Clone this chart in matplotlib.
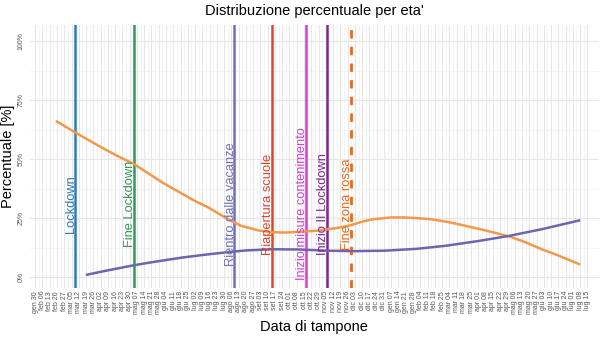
import numpy as np
import pandas as pd
import matplotlib
matplotlib.use('Agg')
from matplotlib import pyplot as plt

plt.rcParams['font.family'] = ['Liberation Sans', 'DejaVu Sans']

# share of positive swabs by age group (%)
orange_dates = ['2020-02-20', '2020-03-08', '2020-03-20', '2020-04-05', '2020-04-20',
                '2020-05-04', '2020-05-18', '2020-06-01', '2020-06-15', '2020-07-01',
                '2020-07-15', '2020-08-01', '2020-08-15', '2020-09-01', '2020-09-14',
                '2020-09-28', '2020-10-10', '2020-10-25', '2020-11-06', '2020-11-18',
                '2020-11-29', '2020-12-10', '2020-12-20', '2021-01-07', '2021-01-20',
                '2021-02-01', '2021-02-15', '2021-03-01', '2021-03-15', '2021-04-01',
                '2021-04-15', '2021-05-01', '2021-05-15', '2021-06-01', '2021-06-15',
                '2021-07-07']
orange_vals = [66, 61.5, 58.5, 54.5, 51,
               48, 44, 40, 36.5, 32.5,
               29.5, 25, 21.8, 19.8, 19,
               18.9, 19.2, 19.6, 20.2, 21,
               22, 23.5, 24.5, 25.3, 25.3,
               25, 24.5, 23.5, 22.2, 20.5,
               19, 17.2, 15, 11.8, 9.5,
               5.5]

purple_dates = ['2020-03-20', '2020-04-05', '2020-04-20', '2020-05-04', '2020-05-20',
                '2020-06-05', '2020-06-20', '2020-07-10', '2020-08-01', '2020-08-20',
                '2020-09-14', '2020-10-10', '2020-11-06', '2020-12-01', '2021-01-01',
                '2021-02-01', '2021-03-01', '2021-04-01', '2021-05-01', '2021-06-01',
                '2021-07-07']
purple_vals = [1, 2.5, 3.8, 5, 6.2,
               7.3, 8.3, 9.4, 10.5, 11.3,
               11.8, 11.7, 11.2, 11, 11.2,
               12, 13.3, 15.3, 17.5, 20.3,
               24]

# events
event_names = ['Lockdown', 'Fine Lockdown', 'Rientro dalle vacanze', 'Riapertura scuole',
               'Inizio misure contenimento', 'Inizio II Lockdown', 'Fine zona rossa']
event_dates = ['2020-03-08', '2020-05-04', '2020-08-09', '2020-09-14',
               '2020-10-17', '2020-11-06', '2020-11-29']
event_colors = ['#2b7bba', '#2e9e57', '#7570b3', '#e0452c', '#d63fd6', '#7b2a8f', '#e6691e']
event_styles = ['-', '-', '-', '-', '-', '-', '--']

mesi = ['gen', 'feb', 'mar', 'apr', 'mag', 'giu', 'lug', 'ago', 'set', 'ott', 'nov', 'dic']
tick_dates = pd.date_range('2020-01-30', '2021-07-15', freq='7D')
tick_labels = [mesi[d.month - 1] + ' ' + d.strftime('%d') for d in tick_dates]

fig = plt.figure(figsize=(6, 3.37), dpi=100)
ax = fig.add_axes([0.05, 0.145, 0.948, 0.781])

ax.set_xlim(pd.Timestamp('2020-01-25'), pd.Timestamp('2021-07-26'))
ax.set_ylim(-4.7, 107)

# grid
ax.set_xticks(tick_dates)
ax.set_xticks(tick_dates[:-1] + pd.Timedelta(days=3.5), minor=True)
ax.set_yticks([0, 25, 50, 75, 100])
ax.set_yticks([12.5, 37.5, 62.5, 87.5], minor=True)
ax.grid(True, which='major', color='#e6e6e6', linewidth=0.8)
ax.grid(True, which='minor', color='#f0f0f0', linewidth=0.5)
ax.set_axisbelow(True)
for s in ax.spines.values():
    s.set_visible(False)
ax.tick_params(which='both', length=0)

ax.set_xticklabels(tick_labels, rotation=90, fontsize=5, color='#555555')
ax.set_yticklabels(['0%', '25%', '50%', '75%', '100%'], rotation=90,
                   fontsize=5, color='#555555', va='center')
ax.tick_params(axis='x', pad=2)
ax.tick_params(axis='y', pad=4)

for name, d, c, ls in zip(event_names, event_dates, event_colors, event_styles):
    d = pd.Timestamp(d)
    if ls == '--':
        ax.axvline(d, color=c, linewidth=2, linestyle=(0, (3, 3)))
    else:
        ax.axvline(d, color=c, linewidth=1.8)
    ax.text(d - pd.Timedelta(days=3.5), 31, name, rotation=90, color=c,
            fontsize=9.3, ha='center', va='center')

ax.plot(pd.to_datetime(orange_dates), orange_vals, color='#f2994a', linewidth=1.8)
ax.plot(pd.to_datetime(purple_dates), purple_vals, color='#6f64ad', linewidth=1.8)

ax.set_title("Distribuzione percentuale per eta'", fontsize=10.5, pad=7)
ax.set_xlabel('Data di tampone', fontsize=10.5, labelpad=4)
ax.set_ylabel('Percentuale [%]', fontsize=10.5, labelpad=2)

fig.savefig('out.png', dpi=100)
